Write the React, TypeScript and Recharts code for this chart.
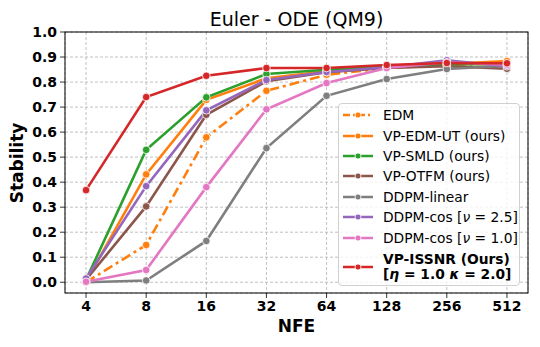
import { LineChart, Line, XAxis, YAxis, CartesianGrid } from 'recharts';

const NFE = [4, 8, 16, 32, 64, 128, 256, 512];

const edm = [0.0, 0.149, 0.579, 0.765, 0.829, 0.856, 0.867, 0.876];
const vpEdmUt = [0.003, 0.431, 0.729, 0.815, 0.843, 0.859, 0.872, 0.884];
const vpSmld = [0.01, 0.529, 0.739, 0.832, 0.849, 0.862, 0.87, 0.872];
const vpOtfm = [0.01, 0.303, 0.669, 0.803, 0.839, 0.856, 0.863, 0.853];
const ddpmLinear = [0.0, 0.007, 0.165, 0.536, 0.745, 0.812, 0.852, 0.865];
const ddpmCos25 = [0.015, 0.384, 0.687, 0.808, 0.84, 0.859, 0.887, 0.863];
const ddpmCos10 = [0.002, 0.049, 0.38, 0.691, 0.796, 0.856, 0.879, 0.869];
const vpIssnr = [0.368, 0.74, 0.825, 0.856, 0.856, 0.868, 0.876, 0.875];

const Y_TICKS = [0, 0.1, 0.2, 0.3, 0.4, 0.5, 0.6, 0.7, 0.8, 0.9, 1.0];

const FONT = '"DejaVu Sans", sans-serif';

const series = [
  { key: 'edm', name: 'EDM', color: '#ff7f0e', values: edm, dash: '10 4 3 4' },
  { key: 'vpEdmUt', name: 'VP-EDM-UT (ours)', color: '#ff7f0e', values: vpEdmUt },
  { key: 'vpSmld', name: 'VP-SMLD (ours)', color: '#2ca02c', values: vpSmld },
  { key: 'vpOtfm', name: 'VP-OTFM (ours)', color: '#8c564b', values: vpOtfm },
  { key: 'ddpmLinear', name: 'DDPM-linear', color: '#7f7f7f', values: ddpmLinear },
  { key: 'ddpmCos25', name: 'DDPM-cos [ν = 2.5]', color: '#9467bd', values: ddpmCos25 },
  { key: 'ddpmCos10', name: 'DDPM-cos [ν = 1.0]', color: '#e377c2', values: ddpmCos10 },
  { key: 'vpIssnr', name: 'VP-ISSNR (Ours)', color: '#d62728', values: vpIssnr },
];

const data = NFE.map((n, i) => {
  const row: Record<string, number> = { nfe: n };
  series.forEach((s) => {
    row[s.key] = s.values[i];
  });
  return row;
});

const Handle = ({ color, dash }: { color: string; dash?: string }) => (
  <svg width={30} height={10} style={{ display: 'block' }}>
    <line x1={0} y1={5} x2={30} y2={5} stroke={color} strokeWidth={2.5} strokeDasharray={dash ? '7 3 2 3' : undefined} />
    <circle cx={15} cy={5} r={3} fill={color} stroke="#fff" strokeWidth={0.8} />
  </svg>
);

const LegendLabel = ({ name }: { name: string }) => {
  const m = name.match(/^(.*\[)(ν)( = .*)$/);
  if (m) {
    return (
      <span>
        {m[1]}
        <i>ν</i>
        {m[3]}
      </span>
    );
  }
  return <span>{name}</span>;
};

export default function App() {
  return (
    <div style={{ position: 'absolute', left: 0, top: 0, width: 540, height: 347, background: '#fff', fontFamily: FONT }}>
      <LineChart width={540} height={347} data={data} margin={{ top: 32, right: 12, left: 0, bottom: 24 }}>
        <CartesianGrid stroke="#b0b0b0" strokeDasharray="3 2" strokeWidth={0.8} />
        <XAxis
          dataKey="nfe"
          type="number"
          scale="log"
          domain={[4 * Math.pow(2, -0.35), 512 * Math.pow(2, 0.35)]}
          ticks={NFE}
          allowDataOverflow
          height={30}
          tickSize={5}
          tickMargin={3}
          axisLine={false}
          tickLine={{ stroke: '#000', strokeWidth: 0.8 }}
          tick={{ fill: '#000', fontSize: 14, fontWeight: 'bold', fontFamily: FONT }}
        />
        <YAxis
          type="number"
          domain={[-0.043, 1.0]}
          ticks={Y_TICKS}
          allowDataOverflow
          width={65}
          tickSize={5}
          tickMargin={3}
          axisLine={false}
          tickLine={{ stroke: '#000', strokeWidth: 0.8 }}
          tickFormatter={(v: number) => v.toFixed(1)}
          tick={{ fill: '#000', fontSize: 14, fontWeight: 'bold', fontFamily: FONT }}
        />
        {series.map((s) => (
          <Line
            key={s.key}
            type="linear"
            dataKey={s.key}
            name={s.name}
            stroke={s.color}
            strokeWidth={2.6}
            strokeDasharray={s.dash}
            dot={{ r: 3.8, fill: s.color, stroke: '#fff', strokeWidth: 0.8, strokeDasharray: '' }}
            activeDot={false}
            isAnimationActive={false}
          />
        ))}
      </LineChart>

      <svg width={540} height={347} style={{ position: 'absolute', left: 0, top: 0, pointerEvents: 'none' }}>
        <rect x={65} y={32} width={463} height={261} fill="none" stroke="#000" strokeWidth={1} />
        <text x={296.5} y={26} textAnchor="middle" fontSize={19} fontFamily={FONT} fill="#000">
          Euler - ODE (QM9)
        </text>
        <text x={296.5} y={332} textAnchor="middle" fontSize={17} fontWeight="bold" fontFamily={FONT} fill="#000">
          NFE
        </text>
        <text
          x={23}
          y={163}
          textAnchor="middle"
          fontSize={17}
          fontWeight="bold"
          fontFamily={FONT}
          fill="#000"
          transform="rotate(-90 23 163)"
        >
          Stability
        </text>
      </svg>

      <div
        style={{
          position: 'absolute',
          left: 338,
          top: 103,
          width: 182,
          height: 183,
          border: '1px solid #d0d0d0',
          borderRadius: 4,
          background: 'rgba(255,255,255,0.8)',
          fontSize: 13.8,
          color: '#000',
          boxSizing: 'border-box',
        }}
      >
        {series.slice(0, 7).map((s, i) => (
          <div
            key={s.key}
            style={{ position: 'absolute', left: 4, top: 1 + i * 20.4, height: 20.4, display: 'flex', alignItems: 'center', whiteSpace: 'nowrap' }}
          >
            <Handle color={s.color} dash={s.dash} />
            <div style={{ marginLeft: 10 }}>
              <LegendLabel name={s.name} />
            </div>
          </div>
        ))}
        <div style={{ position: 'absolute', left: 4, top: 144, height: 38, display: 'flex', alignItems: 'center', whiteSpace: 'nowrap' }}>
          <Handle color={series[7].color} />
          <div style={{ marginLeft: 10, fontWeight: 'bold', lineHeight: '15px' }}>
            <div>{series[7].name}</div>
            <div>
              [<i>η</i> = 1.0 <i>κ</i> = 2.0]
            </div>
          </div>
        </div>
      </div>
    </div>
  );
}
